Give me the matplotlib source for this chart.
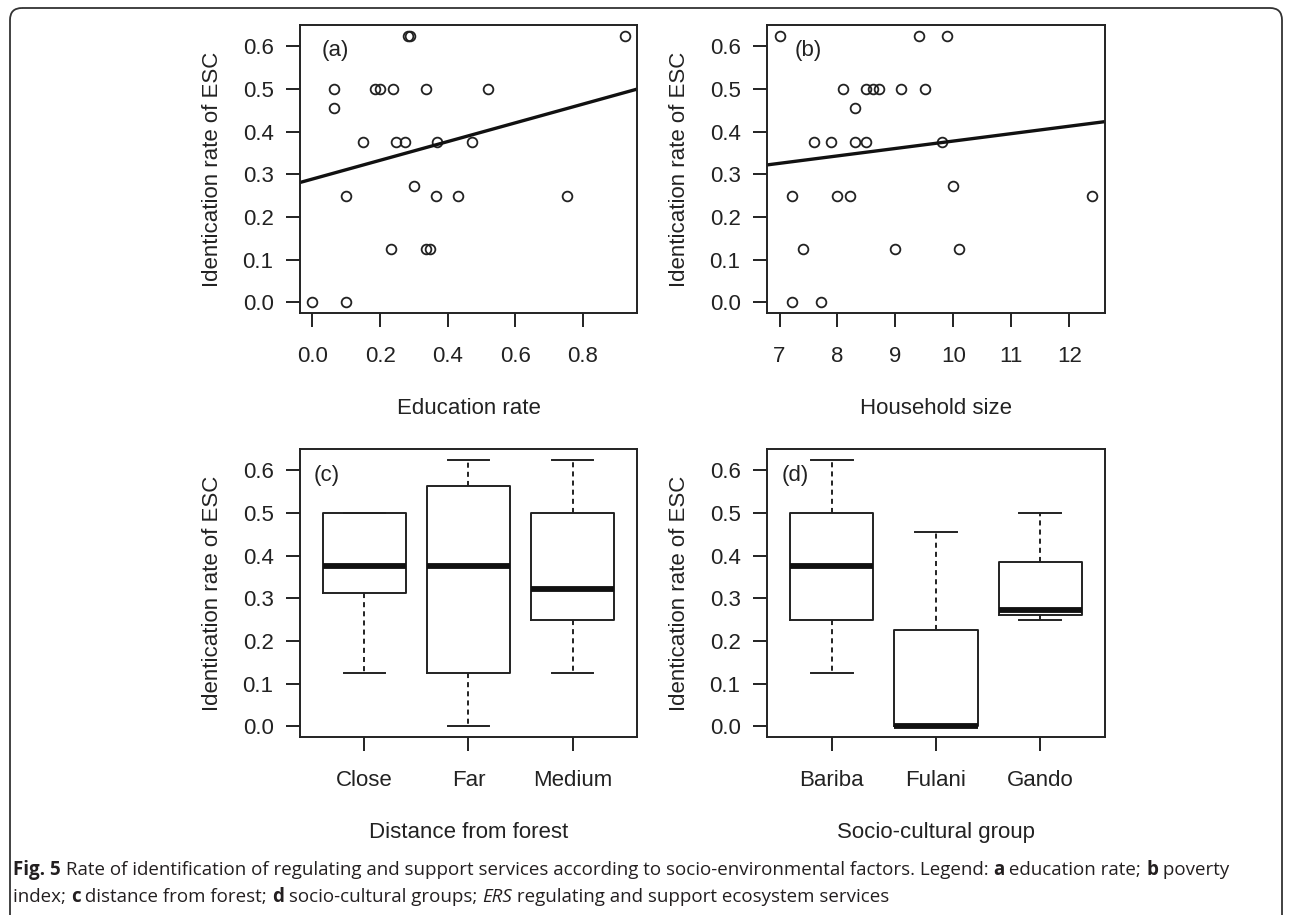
import matplotlib
matplotlib.use('Agg')
import matplotlib.pyplot as plt
from matplotlib.patches import FancyBboxPatch
import numpy as np

# ---- data ----
edu_rate = [0.0, 0.10, 0.063, 0.063, 0.10, 0.148, 0.184, 0.201, 0.238, 0.233, 0.248, 0.273, 0.283,
            0.288, 0.299, 0.335, 0.335, 0.347, 0.364, 0.368, 0.431, 0.472, 0.518, 0.752, 0.923]
edu_esc = [0.0, 0.0, 0.5, 0.455, 0.25, 0.375, 0.5, 0.5, 0.5, 0.125, 0.375, 0.375, 0.625,
           0.625, 0.273, 0.5, 0.125, 0.125, 0.25, 0.375, 0.25, 0.375, 0.5, 0.25, 0.625]
edu_fit = (0.289, 0.2195)   # intercept, slope

hh_size = [7.0, 7.21, 7.21, 7.40, 7.59, 7.71, 7.89, 7.99, 8.09, 8.21, 8.30, 8.30, 8.50,
           8.50, 8.61, 8.71, 9.00, 9.10, 9.40, 9.51, 9.80, 9.89, 10.0, 10.10, 12.40]
hh_esc = [0.625, 0.25, 0.0, 0.125, 0.375, 0.0, 0.375, 0.25, 0.5, 0.25, 0.455, 0.375, 0.375,
          0.5, 0.5, 0.5, 0.125, 0.5, 0.625, 0.5, 0.375, 0.625, 0.273, 0.125, 0.25]
hh_fit = (0.204, 0.0174)

dist_cats = ['Close', 'Far', 'Medium']
dist_q1 = [0.3125, 0.125, 0.25]
dist_med = [0.375, 0.375, 0.3225]
dist_q3 = [0.5, 0.5625, 0.5]
dist_lo = [0.125, 0.0, 0.125]
dist_hi = [0.5, 0.625, 0.625]

grp_cats = ['Bariba', 'Fulani', 'Gando']
grp_q1 = [0.25, 0.0, 0.261]
grp_med = [0.375, 0.0, 0.2727]
grp_q3 = [0.5, 0.2266, 0.385]
grp_lo = [0.125, 0.0, 0.25]
grp_hi = [0.625, 0.455, 0.5]

y_ticks = [0.0, 0.1, 0.2, 0.3, 0.4, 0.5, 0.6]
edu_ticks = [0.0, 0.2, 0.4, 0.6, 0.8]
hh_ticks = [7, 8, 9, 10, 11, 12]

ylab = 'Identication rate of ESC'
INK = '#222222'
plt.rcParams['font.family'] = ['Liberation Sans', 'DejaVu Sans']

W, H = 1290, 915
fig = plt.figure(figsize=(W / 100, H / 100), dpi=100)

# background axes in pixel units for frame + caption
bg = fig.add_axes([0, 0, 1, 1], zorder=-1)
bg.set_xlim(0, W)
bg.set_ylim(H, 0)
bg.axis('off')
bg.add_patch(FancyBboxPatch((10, 8), 1272, 930, boxstyle='round,pad=0,rounding_size=12',
                            fill=False, lw=1.3, ec='#333333'))


def px_axes(l, t, r, b):
    return fig.add_axes([l / W, 1 - b / H, (r - l) / W, (b - t) / H])


def style(ax):
    for s in ax.spines.values():
        s.set_linewidth(1.4)
        s.set_color(INK)
    ax.tick_params(direction='out', length=10, width=1.4, color=INK, labelsize=16,
                   labelcolor=INK)
    ax.tick_params(axis='y', pad=9)
    ax.tick_params(axis='x', pad=14)
    ax.set_yticks(y_ticks)
    ax.set_yticklabels(['%.1f' % v for v in y_ticks])
    ax.set_ylim(-0.025, 0.65)
    ax.set_ylabel(ylab, fontsize=16, color=INK, labelpad=14)


def scatter_panel(ax, x, y, fit, ticks, fmt, xlabel, tag, tagx):
    ax.plot(x, y, 'o', mfc='none', mec=INK, ms=7, mew=1.3, ls='none')
    lo, hi = min(x), max(x)
    pad = 0.04 * (hi - lo)
    ax.set_xlim(lo - pad, hi + pad)
    ax.axline((lo, fit[0] + fit[1] * lo), slope=fit[1], color='#111111', lw=2.4)
    ax.set_xlim(lo - pad, hi + pad)
    style(ax)
    ax.set_xticks(ticks)
    ax.set_xticklabels([fmt % v for v in ticks])
    ax.set_xlabel(xlabel, fontsize=16, color=INK, labelpad=22)
    ax.text(tagx, 0.91, tag, transform=ax.transAxes, fontsize=16, color=INK,
            ha='center', va='center')


def box_panel(ax, cats, q1, med, q3, lo, hi, xlabel, tag, tagx):
    stats = [dict(q1=a, med=m, q3=b, whislo=l, whishi=h, fliers=[])
             for a, m, b, l, h in zip(q1, med, q3, lo, hi)]
    ax.bxp(stats, positions=[1, 2, 3], widths=0.8, capwidths=0.4, showfliers=False,
           boxprops=dict(color=INK, lw=1.4),
           whiskerprops=dict(color=INK, lw=1.4, linestyle=(0, (2.6, 2.1))),
           capprops=dict(color=INK, lw=1.4),
           medianprops=dict(color='#111111', lw=4.2, solid_capstyle='butt'))
    ax.set_xlim(0.38, 3.62)
    style(ax)
    ax.set_xticks([1, 2, 3])
    ax.set_xticklabels(cats)
    ax.set_xlabel(xlabel, fontsize=16, color=INK, labelpad=22)
    ax.text(tagx, 0.907, tag, transform=ax.transAxes, fontsize=16, color=INK,
            ha='center', va='center')


ax_a = px_axes(300, 25, 637, 313)
scatter_panel(ax_a, edu_rate, edu_esc, edu_fit, edu_ticks, '%.1f', 'Education rate', '(a)', 0.104)
ax_b = px_axes(767, 25, 1105, 313)
scatter_panel(ax_b, hh_size, hh_esc, hh_fit, hh_ticks, '%d', 'Household size', '(b)', 0.121)
ax_c = px_axes(300, 449, 637, 737)
box_panel(ax_c, dist_cats, dist_q1, dist_med, dist_q3, dist_lo, dist_hi,
          'Distance from forest', '(c)', 0.08)
ax_d = px_axes(767, 449, 1105, 737)
box_panel(ax_d, grp_cats, grp_q1, grp_med, grp_q3, grp_lo, grp_hi,
          'Socio-cultural group', '(d)', 0.083)

# ---- caption with mixed bold / italic runs ----
renderer = fig.canvas.get_renderer()


def rich_line(x, y, parts, size=13.5):
    for s, w, st in parts:
        t = bg.text(x, y, s, fontsize=size, fontweight=w, fontstyle=st, family='Open Sans',
                    color='#231f20', va='baseline', ha='left')
        x += t.get_window_extent(renderer=renderer).width


N, B = 'normal', 'bold'
rich_line(13, 875, [('Fig. 5', B, N),
                    (' Rate of identification of regulating and support services according to '
                     'socio-environmental factors. Legend: ', N, N),
                    ('a', B, N), (' education rate; ', N, N), ('b', B, N), (' poverty', N, N)])
rich_line(13, 902, [('index; ', N, N), ('c', B, N), (' distance from forest; ', N, N),
                    ('d', B, N), (' socio-cultural groups; ', N, N), ('ERS', N, 'italic'),
                    (' regulating and support ecosystem services', N, N)])

fig.savefig('out.png', dpi=100)
